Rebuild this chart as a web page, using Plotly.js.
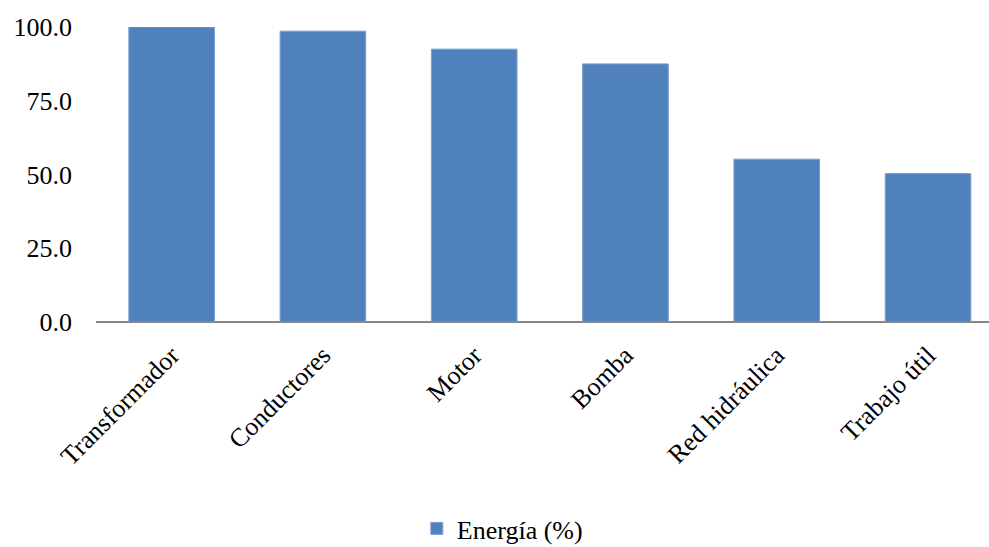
<!DOCTYPE html>
<html>
<head>
<meta charset="utf-8">
<script src="https://cdn.plot.ly/plotly-3.0.1.min.js"></script>
<style>html,body{margin:0;padding:0;background:#fff;}#chart{width:989px;height:547px;}</style>
</head>
<body>
<div id="chart"></div>
<script>
const categories = ["Transformador", "Conductores", "Motor", "Bomba", "Red hidráulica", "Trabajo útil"];
const energia = [100.0, 98.6, 92.5, 87.5, 55.2, 50.3];
const seriesName = "Energía (%)";
const yTicks = [0, 25, 50, 75, 100];

const font = {family: "'Times New Roman', 'Liberation Serif', serif", size: 26, color: "#000"};

Plotly.newPlot("chart", [{
  type: "bar",
  x: categories,
  y: energia,
  name: seriesName,
  marker: {color: "#4f81bd", line: {color: "#7aa0d0", width: 1}},
  showlegend: true
}], {
  width: 989, height: 547,
  paper_bgcolor: "#fff", plot_bgcolor: "#fff",
  margin: {l: 96, r: 0, t: 27, b: 224.5, autoexpand: false},
  bargap: 0.434,
  font: font,
  xaxis: {
    range: [-0.5, 5.403],
    tickangle: -45,
    automargin: false,
    showline: false,
    zeroline: false,
    showgrid: false,
    ticks: "",
    ticklabelstandoff: 12,
    tickfont: font
  },
  yaxis: {
    range: [0, 100],
    tickvals: yTicks,
    tickformat: ".1f",
    automargin: false,
    showgrid: false,
    showline: false,
    zeroline: true,
    zerolinecolor: "#868686",
    zerolinewidth: 2,
    ticks: "",
    ticklabelstandoff: 23,
    tickfont: font
  },
  legend: {
    orientation: "h",
    x: 0.455, xanchor: "center",
    y: -0.70, yanchor: "middle",
    font: font
  }
}, {displayModeBar: false, staticPlot: true});
</script>
</body>
</html>
